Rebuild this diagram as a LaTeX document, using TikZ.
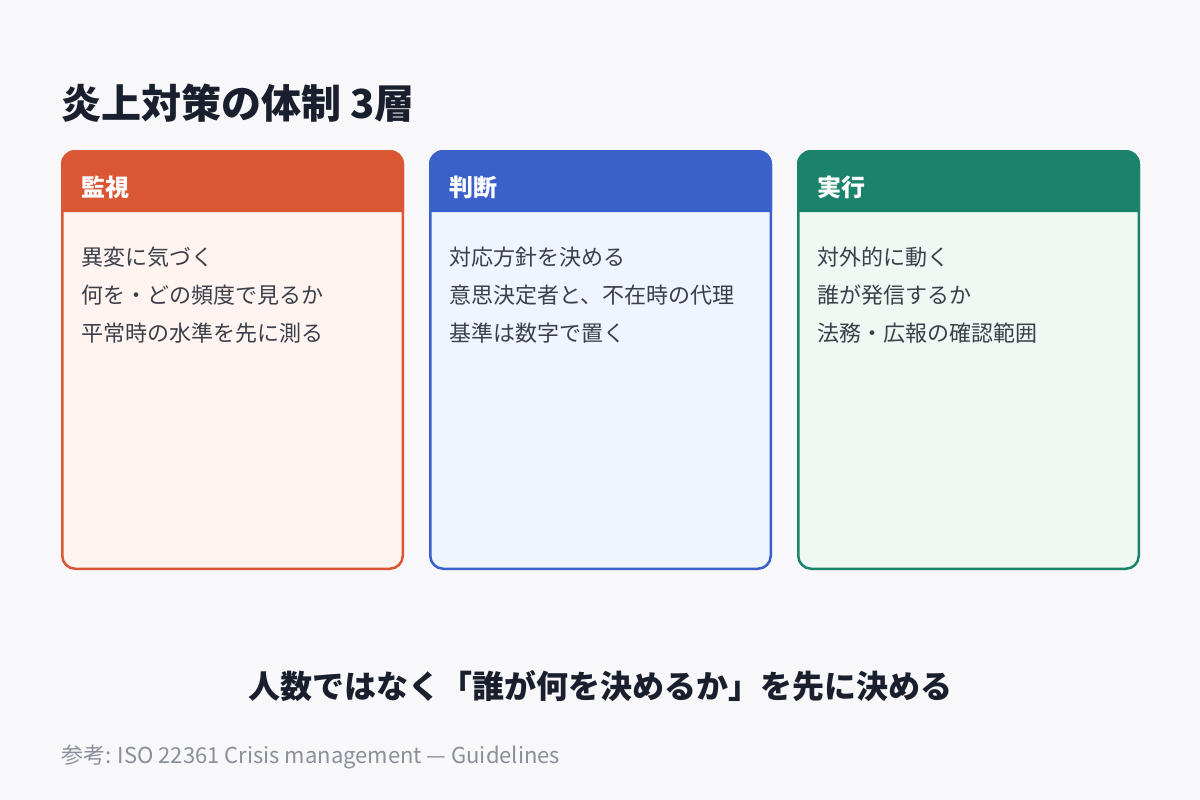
\documentclass[tikz,border=0pt]{standalone}
\usepackage{fontspec}
\setmainfont{Noto Sans CJK JP}
\definecolor{bg}{HTML}{F8F8FB}
\definecolor{ink}{HTML}{1A1F2E}
\definecolor{body}{HTML}{3A3F4A}
\definecolor{foot}{HTML}{8A8F99}
\definecolor{cA}{HTML}{D95733}
\definecolor{fA}{HTML}{FFF4F0}
\definecolor{cB}{HTML}{3A60C9}
\definecolor{fB}{HTML}{EEF5FF}
\definecolor{cC}{HTML}{1B836B}
\definecolor{fC}{HTML}{EFF8F3}
\tikzset{
  head/.style={anchor=west,text=white,font=\fontsize{24}{28}\selectfont\bfseries,inner sep=0pt},
  item/.style={anchor=west,text=body,font=\fontsize{22}{26}\selectfont,inner sep=0pt},
}
\newcommand{\mycard}[6]{%
  \fill[#3,rounded corners=14pt] (#1,150) rectangle (#1+343,570);
  \fill[#2] (#1,212) {[rounded corners=14pt] -- (#1,150) -- (#1+343,150)} -- (#1+343,212) -- cycle;
  \draw[#2,line width=2.5pt,rounded corners=13pt] (#1+1.25,151.25) rectangle (#1+341.75,568.75);
  \node[head] (#4) at (#1+20,187) {#5};
  #6
}
\begin{document}
\begin{tikzpicture}[x=1pt,y=-1pt]
\fill[bg] (0,0) rectangle (1200,800);
\useasboundingbox (0,0) rectangle (1200,800);
\node[anchor=west,text=ink,font=\fontsize{40}{46}\selectfont\bfseries,inner sep=0pt] (title) at (61,103) {炎上対策の体制 3層};
\mycard{61}{cA}{fA}{hA}{監視}{%
  \node[item] (a1) at (81,257) {異変に気づく};
  \node[item] (a2) at (81,295) {何を・どの頻度で見るか};
  \node[item] (a3) at (81,333) {平常時の水準を先に測る};}
\mycard{429}{cB}{fB}{hB}{判断}{%
  \node[item] (b1) at (449,257) {対応方針を決める};
  \node[item] (b2) at (449,295) {意思決定者と、不在時の代理};
  \node[item] (b3) at (449,333) {基準は数字で置く};}
\mycard{797}{cC}{fC}{hC}{実行}{%
  \node[item] (c1) at (817,257) {対外的に動く};
  \node[item] (c2) at (817,295) {誰が発信するか};
  \node[item] (c3) at (817,333) {法務・広報の確認範囲};}
\node[text=ink,font=\fontsize{32}{37}\selectfont\bfseries,inner sep=0pt] (msg) at (600,686) {人数ではなく「誰が何を決めるか」を先に決める};
\node[anchor=west,text=foot,font=\fontsize{22}{26}\selectfont,inner sep=0pt] (src) at (61,757) {参考: ISO 22361 Crisis management — Guidelines};
\end{tikzpicture}
\end{document}
